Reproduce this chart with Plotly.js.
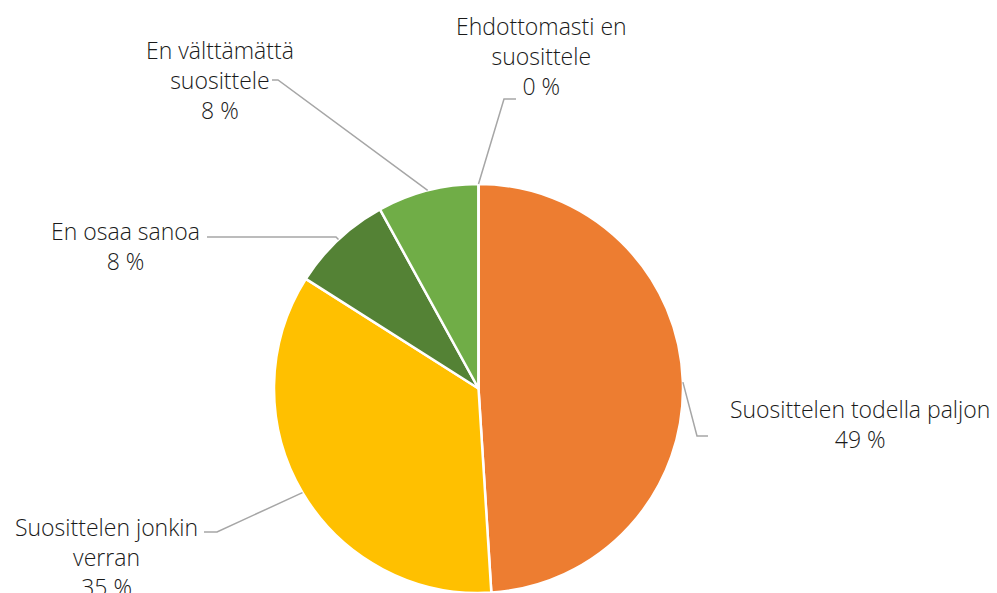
<!DOCTYPE html>
<html>
<head>
<meta charset="utf-8">
<script src="https://cdn.plot.ly/plotly-3.0.1.min.js"></script>
<style>html,body{margin:0;padding:0;background:#fff;}#chart{width:997px;height:593px;}</style>
</head>
<body>
<div id="chart"></div>
<script>
// ---- data ----
const categories = [
  "Suosittelen todella paljon",
  "Suosittelen jonkin verran",
  "En osaa sanoa",
  "En välttämättä suosittele",
  "Ehdottomasti en suosittele"
];
const values = [49, 35, 8, 8, 0];
const percentLabels = ["49 %", "35 %", "8 %", "8 %", "0 %"];
const labelLines = [
  ["Suosittelen todella paljon"],
  ["Suosittelen jonkin", "verran"],
  ["En osaa sanoa"],
  ["En välttämättä", "suosittele"],
  ["Ehdottomasti en", "suosittele"]
];

// ---- layout / style ----
const W = 997, H = 593;
const colors = ["#ED7D31", "#FFC000", "#548235", "#70AD47", "#4472C4"];
const cx = 478.5, cy = 388.5, R = 204.5;
// label text block centres (px) and leader elbow/end points (px)
const labelPos = [
  {x: 860, y: 424, elbow: [697, 436], end: [708, 436]},
  {x: 106, y: 557, elbow: [217, 532], end: [204, 532]},
  {x: 125, y: 246, elbow: [336, 237], end: [207, 237]},
  {x: 220, y: 80,  elbow: [278, 80],  end: [272, 80]},
  {x: 541, y: 56,  elbow: [504, 99],  end: [516, 99]}
];
const px = x => x / W;
const py = y => 1 - y / H;

const trace = {
  type: "pie",
  labels: categories,
  values: values,
  sort: false,
  direction: "clockwise",
  rotation: 0,
  textinfo: "none",
  hoverinfo: "label+percent",
  marker: {colors: colors, line: {color: "#ffffff", width: 2.5}},
  domain: {x: [px(cx - R), px(cx + R)], y: [py(cy + R), py(cy - R)]},
  showlegend: false
};

const total = values.reduce((a, b) => a + b, 0);
const shapes = [];
const annotations = [];
let cum = 0;
values.forEach((v, i) => {
  const mid = (cum + v / 2) / total * 2 * Math.PI;
  cum += v;
  const sx = cx + R * Math.sin(mid);
  const sy = cy - R * Math.cos(mid);
  const lp = labelPos[i];
  shapes.push({
    type: "path", xref: "paper", yref: "paper",
    path: `M ${px(sx)} ${py(sy)} L ${px(lp.elbow[0])} ${py(lp.elbow[1])} L ${px(lp.end[0])} ${py(lp.end[1])}`,
    line: {color: "#A6A6A6", width: 1.5}
  });
  annotations.push({
    xref: "paper", yref: "paper",
    x: px(lp.x), y: py(lp.y),
    xanchor: "center", yanchor: "middle", align: "center",
    showarrow: false,
    text: labelLines[i].concat([percentLabels[i]]).join("<br>"),
    font: {family: "Open Sans, sans-serif", size: 23, color: "#1a1a1a", weight: 300}
  });
});

const layout = {
  width: W, height: H,
  margin: {l: 0, r: 0, t: 0, b: 0},
  paper_bgcolor: "#ffffff",
  shapes: shapes,
  annotations: annotations
};

Plotly.newPlot("chart", [trace], layout, {displayModeBar: false, staticPlot: true});
</script>
</body>
</html>
